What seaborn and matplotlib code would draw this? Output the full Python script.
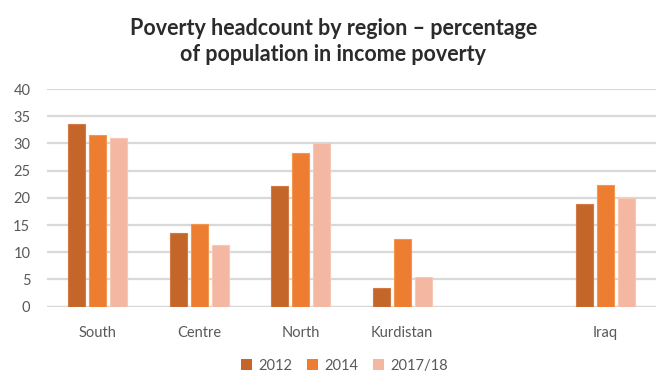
import matplotlib
matplotlib.use("Agg")
import matplotlib.pyplot as plt
import seaborn as sns
import pandas as pd

# Regions, with an empty slot separating the national total
regions = ["South", "Centre", "North", "Kurdistan", "", "Iraq"]
years = ["2012", "2014", "2017/18"]

values_2012 = [33.5, 13.6, 22.2, 3.4, None, 18.9]
values_2014 = [31.5, 15.2, 28.2, 12.4, None, 22.4]
values_2017 = [31.0, 11.3, 30.1, 5.4, None, 19.9]

y_ticks = [0, 5, 10, 15, 20, 25, 30, 35, 40]

colors = ["#C4662A", "#ED7D31", "#F4B7A2"]
edge_colors = ["#D27A45", "#F3964F", "#F8C8B6"]

rows = []
for year, vals in zip(years, [values_2012, values_2014, values_2017]):
    for reg, v in zip(regions, vals):
        if v is not None:
            rows.append({"region": reg, "year": year, "value": v})
df = pd.DataFrame(rows)

sns.set_theme(style="white")
plt.rcParams["font.family"] = ["Lato", "DejaVu Sans"]

fig = plt.figure(figsize=(6.56, 3.74), dpi=100)
ax = fig.add_axes([47 / 656, 0.18, 609 / 656, 0.582])

sns.barplot(data=df, x="region", y="value", hue="year", order=regions,
            hue_order=years, palette=colors, width=0.62, gap=0.17,
            ax=ax, legend=False, saturation=1)

for i, container in enumerate(ax.containers):
    for patch in container:
        patch.set_edgecolor(edge_colors[i])
        patch.set_linewidth(0.8)

ax.set_ylim(0, 40)
ax.set_xlim(-0.5, 5.5)
ax.set_yticks(y_ticks)
ax.set_yticklabels([str(t) for t in y_ticks])
ax.yaxis.grid(True, color="#D9D9D9", linewidth=1.6)
ax.set_axisbelow(True)
ax.xaxis.grid(False)
for side in ["left", "right", "top", "bottom"]:
    ax.spines[side].set_visible(False)
ax.axhline(0, color="#D9D9D9", linewidth=1.6, zorder=0.5)

ax.set_xlabel("")
ax.set_ylabel("")
ax.tick_params(axis="both", length=0, labelsize=10.5, labelcolor="#595959")
ax.tick_params(axis="x", pad=14)
ax.tick_params(axis="y", pad=12)

fig.text(0.508, 0.889, "Poverty headcount by region \u2013 percentage\nof population in income poverty",
         ha="center", va="center", fontsize=15.5, fontweight="bold",
         color="#2B2B2B", linespacing=1.25)

handles = [plt.Rectangle((0, 0), 1, 1, facecolor=c, edgecolor="none") for c in colors]
fig.legend(handles, years, loc="center", bbox_to_anchor=(0.525, 0.022),
           ncol=3, frameon=False, handlelength=0.75, handleheight=0.75,
           handletextpad=0.45, columnspacing=1.0,
           prop={"size": 10.5}, labelcolor="#595959")

fig.savefig("out.png", dpi=100)
